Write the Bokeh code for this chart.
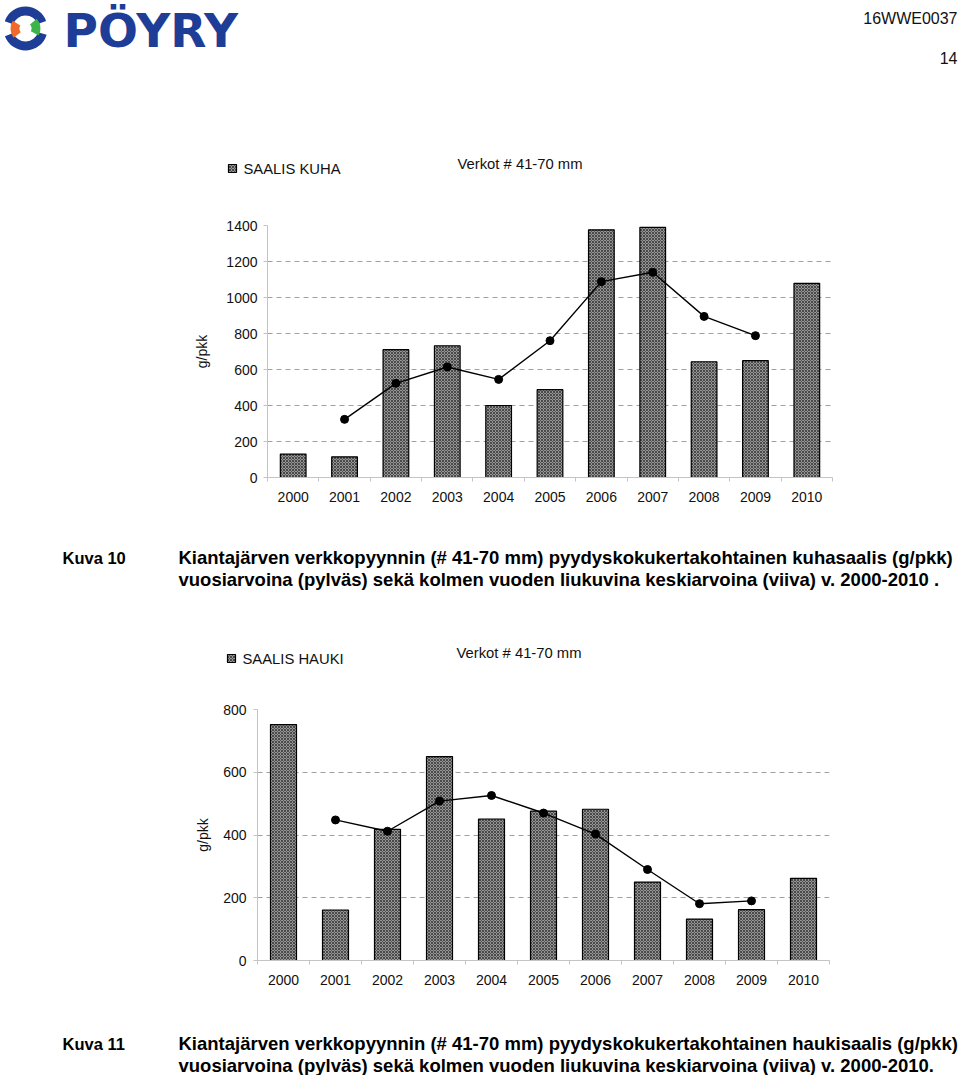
from bokeh.plotting import figure
from bokeh.models import Range1d, FixedTicker, Spacer
from bokeh.layouts import column, row
from bokeh.embed import file_html
from bokeh.resources import INLINE
from bokeh.core.properties import value

# ---------------- data ----------------
years = [2000, 2001, 2002, 2003, 2004, 2005, 2006, 2007, 2008, 2009, 2010]
year_labels = [str(y) for y in years]
ma_years = [2001, 2002, 2003, 2004, 2005, 2006, 2007, 2008, 2009]

kuha_catch = [130, 115, 710, 732, 400, 488, 1376, 1390, 643, 649, 1079]
kuha_ma = [323, 523, 614, 545, 760, 1088, 1140, 895, 788]
kuha_yticks = [0, 200, 400, 600, 800, 1000, 1200, 1400]

hauki_catch = [752, 161, 418, 650, 451, 476, 482, 250, 132, 162, 262]
hauki_ma = [448, 412, 508, 526, 470, 403, 290, 181, 190]
hauki_yticks = [0, 200, 400, 600, 800]

doc_id = "16WWE0037"
page_no = "14"
legend_kuha = "SAALIS  KUHA"
legend_hauki = "SAALIS  HAUKI"
nets = "Verkot # 41-70 mm"
ylabel = "g/pkk"
cap10_head = "Kuva 10"
cap10 = ["Kiantajärven verkkopyynnin (# 41-70 mm) pyydyskokukertakohtainen kuhasaalis (g/pkk)",
         "vuosiarvoina (pylväs) sekä kolmen vuoden liukuvina keskiarvoina (viiva) v. 2000-2010 ."]
cap11_head = "Kuva 11"
cap11 = ["Kiantajärven verkkopyynnin (# 41-70 mm) pyydyskokukertakohtainen haukisaalis (g/pkk)",
         "vuosiarvoina (pylväs) sekä kolmen vuoden liukuvina keskiarvoina (viiva) v. 2000-2010."]

SANS = value("Liberation Sans")
BAR = dict(fill_color="#959595", hatch_pattern="diagonal_cross", hatch_scale=3,
           hatch_color="#363636", hatch_weight=0.8, line_color="black", line_width=1.2)


def place(fig, offset):
    # a distinct left offset per figure keeps Bokeh from aligning the frames
    return row(Spacer(width=offset, height=fig.height), fig) if offset else fig


def text_fig(offset, w, h):
    p = figure(width=w, height=h, x_range=Range1d(offset, offset + w), y_range=Range1d(h, 0),
               x_axis_type=None, y_axis_type=None, output_backend="svg",
               toolbar_location=None, min_border=0)
    p.grid.visible = False
    p.outline_line_color = None
    return p


def legend(p, sx, sy, label, tx, ty):
    p.rect(x=[sx], y=[sy], width=8, height=8, **BAR)
    p.text(x=[sx + 11], y=[sy], text=[label], text_font=SANS, text_font_size="14.8px",
           text_baseline="middle", text_color="#111111")
    p.text(x=[tx], y=[ty], text=[nets], text_font=SANS, text_font_size="14.8px",
           text_baseline="middle", text_color="#111111")


def caption(p, y0, head, lines):
    p.text(x=[62], y=[y0], text=[head], text_font=SANS, text_font_style="bold",
           text_font_size="16.5px", text_baseline="middle", text_color="black")
    p.text(x=[178, 178], y=[y0, y0 + 22], text=lines, text_font=SANS,
           text_font_style="bold", text_font_size="18.5px", text_baseline="middle",
           text_color="black")


def chart(catch, ma, yticks, w, h, bl, br, bt, bb, ystand, lstand):
    p = figure(width=w, height=h, x_range=Range1d(years[0] - 0.5, years[-1] + 0.5),
               y_range=Range1d(0, yticks[-1]), output_backend="svg",
               toolbar_location=None, min_border_left=bl, min_border_right=br,
               min_border_top=bt, min_border_bottom=bb)
    p.outline_line_color = None
    p.xgrid.visible = False
    p.ygrid.ticker = FixedTicker(ticks=yticks[1:])
    p.ygrid.grid_line_color = "#a0a0a0"
    p.ygrid.grid_line_dash = "5 4"
    p.yaxis.ticker = FixedTicker(ticks=yticks)
    p.xaxis.ticker = FixedTicker(ticks=years,
                                 minor_ticks=[y - 0.5 for y in years] + [years[-1] + 0.5])
    p.xaxis.major_label_overrides = {y: s for y, s in zip(years, year_labels)}
    for ax in (p.xaxis, p.yaxis):
        ax.axis_line_color = "#c4c4c4"
        ax.major_tick_line_color = "#c4c4c4"
        ax.minor_tick_line_color = "#c4c4c4"
        ax.major_label_text_font = "Liberation Sans"
        ax.major_label_text_font_size = "14px"
        ax.major_label_text_color = "#111111"
    p.xaxis.major_tick_out = 0
    p.xaxis.major_tick_in = 0
    p.xaxis.minor_tick_out = 4
    p.xaxis.minor_tick_in = 0
    p.xaxis.major_label_standoff = 10
    p.yaxis.minor_tick_line_color = None
    p.yaxis.major_tick_out = 4
    p.yaxis.major_tick_in = 0
    p.yaxis.major_label_standoff = ystand
    p.yaxis.axis_label = ylabel
    p.yaxis.axis_label_text_font = "Liberation Sans"
    p.yaxis.axis_label_text_font_style = "normal"
    p.yaxis.axis_label_text_font_size = "14px"
    p.yaxis.axis_label_text_color = "#111111"
    p.yaxis.axis_label_standoff = lstand
    p.vbar(x=years, top=catch, width=0.5, bottom=0, **BAR)
    p.line(ma_years, ma, line_color="black", line_width=1.4)
    p.scatter(ma_years, ma, size=8, fill_color="black", line_color="black")
    return p


# ---------------- header + legend 1 (page y 0-210) ----------------
head = text_fig(0, 960, 210)
head.annular_wedge(x=[25, 25], y=[28, 28], inner_radius=13, outer_radius=22,
                   start_angle=[0.35, 3.5], end_angle=[2.8, 6.0],
                   fill_color="#1e3d96", line_color=None)
head.annular_wedge(x=[25], y=[28], inner_radius=6, outer_radius=15,
                   start_angle=[2.6], end_angle=[3.8], fill_color="#f06a2c", line_color=None)
head.annular_wedge(x=[25], y=[28], inner_radius=6, outer_radius=15,
                   start_angle=[5.8], end_angle=[7.0], fill_color="#3cb44a", line_color=None)
head.text(x=[63], y=[30], text=["PÖYRY"], text_font=value("DejaVu Sans"),
          text_font_style="bold", text_font_size="47px", text_baseline="middle",
          text_color="#1e3d96")
head.text(x=[957, 957], y=[18, 57], text=[doc_id, page_no], text_font=SANS,
          text_font_size="16px", text_baseline="middle", text_align="right",
          text_color="#111111")
legend(head, 232, 168, legend_kuha, 457, 163)

# ---------------- chart 1 (page y 210-520) ----------------
c1 = chart(kuha_catch, kuha_ma, kuha_yticks, 953, 310, 264, 124, 15, 43, 6, 13)

# ---------------- caption 1 + legend 2 (page y 520-695) ----------------
mid = text_fig(1, 958, 175)
caption(mid, 37, cap10_head, cap10)
legend(mid, 231, 138, legend_hauki, 456, 132)

# ---------------- chart 2 (page y 695-1005) ----------------
c2 = chart(hauki_catch, hauki_ma, hauki_yticks, 951, 310, 253, 126, 14, 45, 7, 9)

# ---------------- caption 2 (page y 1005-1075) ----------------
bot = text_fig(2, 956, 70)
caption(bot, 38, cap11_head, cap11)

page = column(place(head, 0), place(c1, 3), place(mid, 1), place(c2, 4), place(bot, 2),
              spacing=0)
open("out.html", "w").write(file_html(page, INLINE))
